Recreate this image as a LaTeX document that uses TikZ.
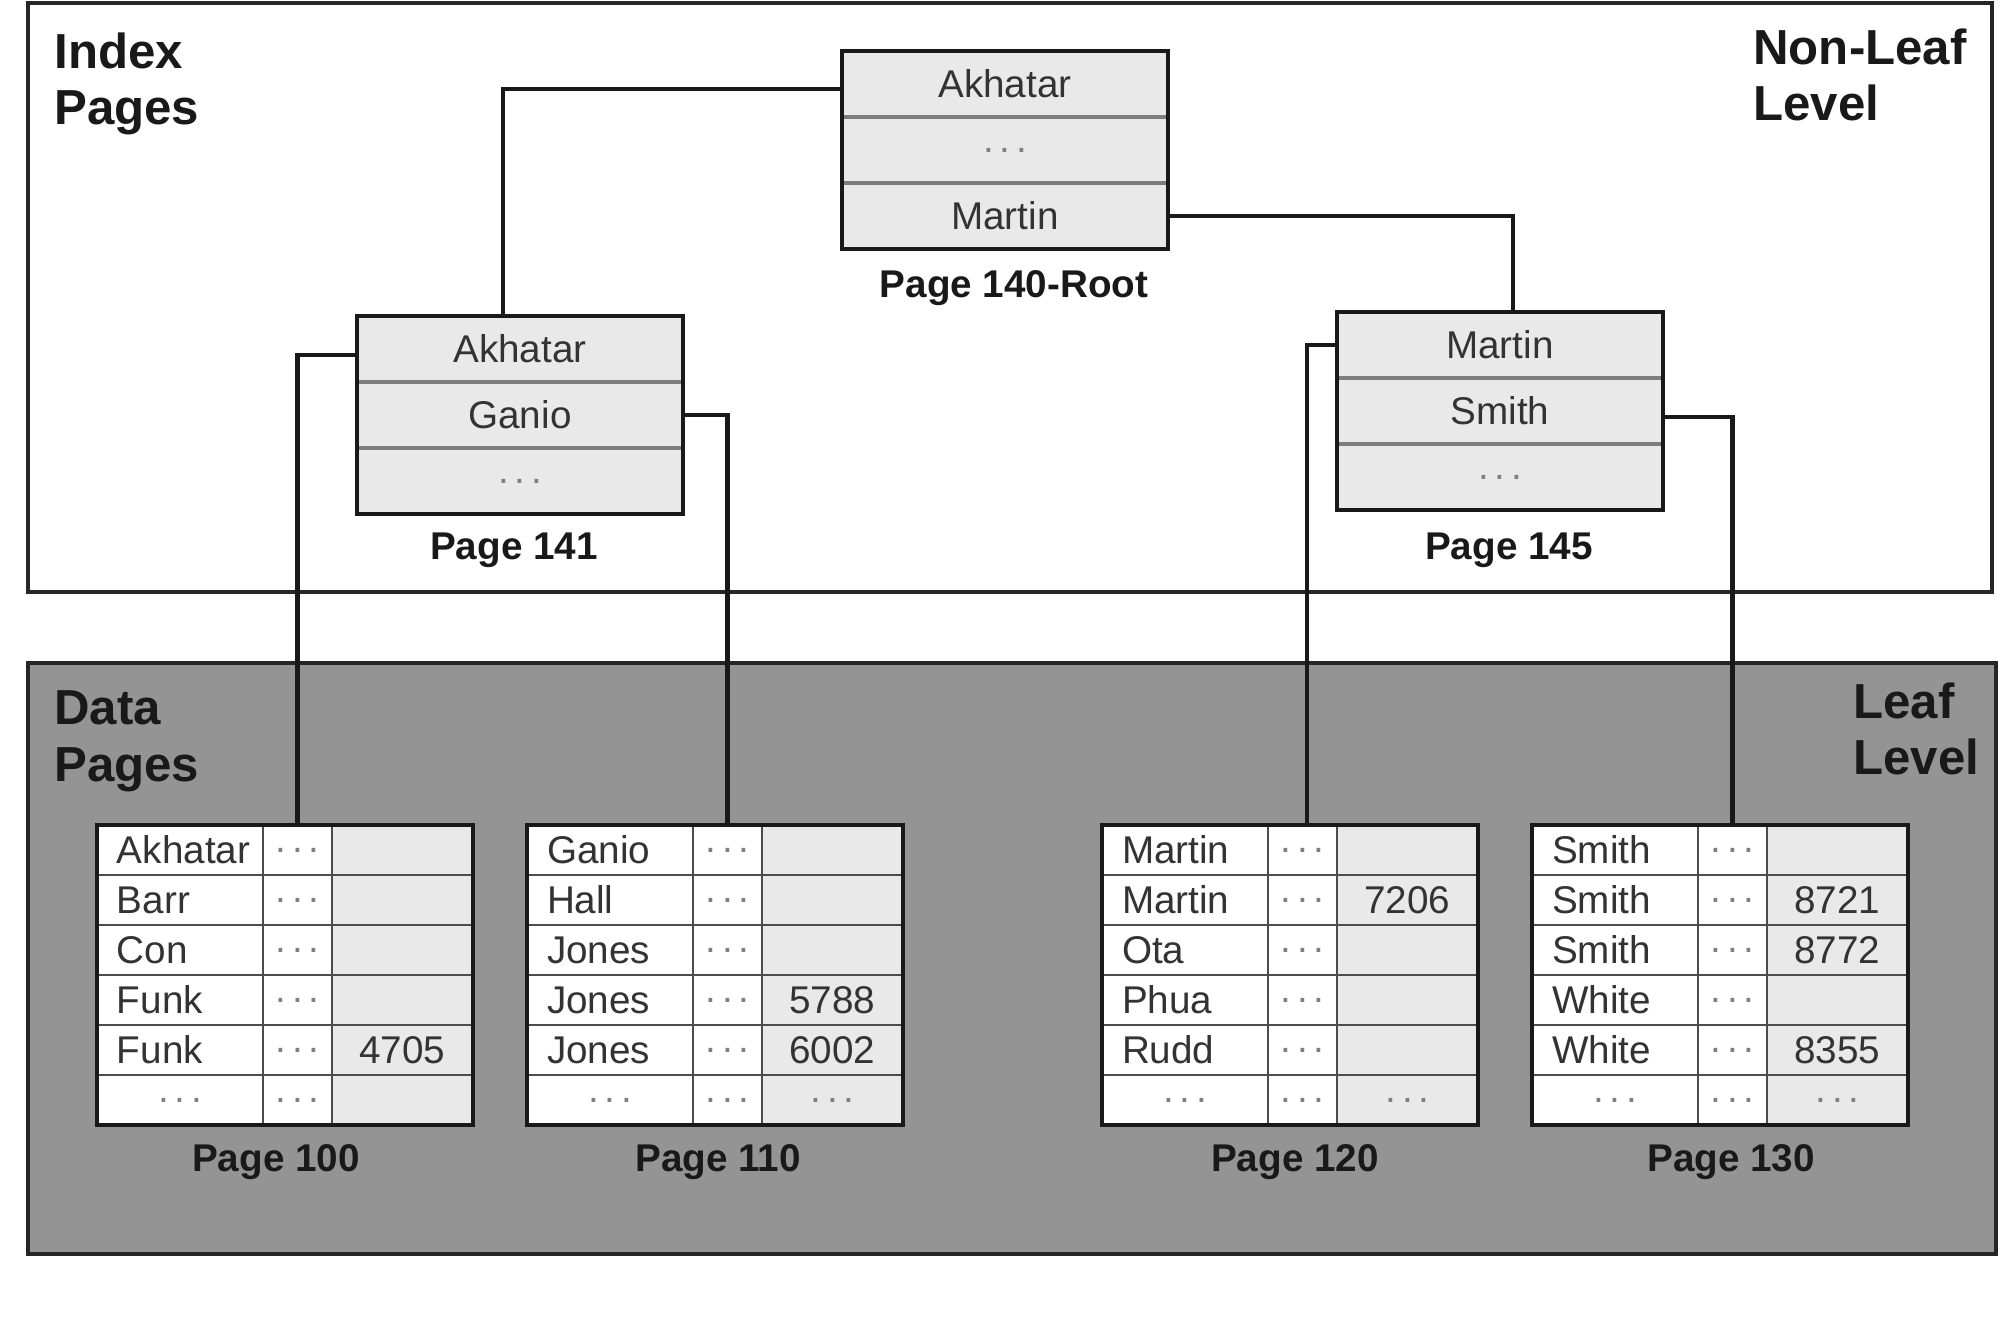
\documentclass[tikz,border=0pt]{standalone}
\usepackage{fontspec}
\setmainfont{Liberation Sans}
\definecolor{cellbg}{RGB}{233,233,233}
\definecolor{leafbg}{RGB}{148,148,148}
\definecolor{rowsep}{RGB}{125,125,125}
\newcommand\dts{\textcolor{black!50}{.\kern0.15em.\kern0.15em.}}
\newcommand\cdts{\makebox[2.52cm]{\dts}}
\newcommand\leafrow[6]{%
  \node[namecell] (#1-#2-1) at (#3,#4) {#5};
  \node[dotcell] (#1-#2-2) at (#1-#2-1.north east) {\dts};
  \node[valcell] (#1-#2-3) at (#1-#2-2.north east) {#6};}
\tikzset{
  idxrow/.style={draw=rowsep, line width=1.8pt, fill=cellbg, minimum width=6.52cm,
    minimum height=1.32cm, inner sep=0pt, outer sep=0pt, anchor=north west,
    font=\fontsize{22}{26}\selectfont, text=black!80},
  border/.style={draw=black!90, line width=2.3pt},
  conn/.style={draw=black!90, line width=2.5pt},
  leafcell/.style={draw=black!70, line width=1.3pt, minimum height=1.0cm, inner ysep=0pt,
    outer sep=0pt, anchor=north west, font=\fontsize{22}{26}\selectfont, text=black!80},
  namecell/.style={leafcell, fill=white, text width=2.52cm, align=left, inner xsep=0.4cm},
  dotcell/.style={leafcell, fill=white, minimum width=1.38cm, inner xsep=0pt},
  valcell/.style={leafcell, fill=cellbg, minimum width=2.82cm, inner xsep=0pt},
  pagelbl/.style={font=\bfseries\fontsize{22}{26}\selectfont, text=black!90, inner sep=0pt},
  corner/.style={font=\bfseries\fontsize{28}{32.4}\selectfont, text=black!90, inner sep=0pt,
    anchor=north west, align=left},
  areabox/.style={draw=black!85, line width=2.8pt}
}
\begin{document}
\begin{tikzpicture}[x=0.02cm,y=-0.02cm]
\useasboundingbox (0,0) rectangle (2000,1340);
% areas
\draw[areabox] (28,3) rectangle (1992,592);
\draw[areabox, fill=leafbg] (28,663) rectangle (1996,1254);
\node[corner] (idx) at (54,32) {Index\\Pages};
\node[corner] (nonleaf) at (1753,28) {Non-Leaf\\Level};
\node[corner] (data) at (54,690) {Data\\Pages};
\node[corner] (leaf) at (1853,682) {Leaf\\Level};

% root page 140
\node[idxrow] (root-1) at (842,51) {Akhatar};
\node[idxrow] (root-2) at (root-1.south west) {\dts};
\node[idxrow] (root-3) at (root-2.south west) {Martin};
\draw[border] (root-1.north west) rectangle (root-3.south east);
\node[pagelbl] (lroot) at (1014,288) {Page 140-Root};

% page 141
\node[idxrow] (p141-1) at (357,316) {Akhatar};
\node[idxrow] (p141-2) at (p141-1.south west) {Ganio};
\node[idxrow] (p141-3) at (p141-2.south west) {\dts};
\draw[border] (p141-1.north west) rectangle (p141-3.south east);
\node[pagelbl] (l141) at (514,550) {Page 141};

% page 145
\node[idxrow] (p145-1) at (1337,312) {Martin};
\node[idxrow] (p145-2) at (p145-1.south west) {Smith};
\node[idxrow] (p145-3) at (p145-2.south west) {\dts};
\draw[border] (p145-1.north west) rectangle (p145-3.south east);
\node[pagelbl] (l145) at (1509,550) {Page 145};

% page 100
\leafrow{p100}{1}{97}{825}{Akhatar}{}
\leafrow{p100}{2}{97}{875}{Barr}{}
\leafrow{p100}{3}{97}{925}{Con}{}
\leafrow{p100}{4}{97}{975}{Funk}{}
\leafrow{p100}{5}{97}{1025}{Funk}{4705}
\leafrow{p100}{6}{97}{1075}{\cdts}{}
\draw[border] (p100-1-1.north west) rectangle (p100-6-3.south east);
\node[pagelbl] (l100) at (276,1162) {Page 100};

% page 110
\leafrow{p110}{1}{527}{825}{Ganio}{}
\leafrow{p110}{2}{527}{875}{Hall}{}
\leafrow{p110}{3}{527}{925}{Jones}{}
\leafrow{p110}{4}{527}{975}{Jones}{5788}
\leafrow{p110}{5}{527}{1025}{Jones}{6002}
\leafrow{p110}{6}{527}{1075}{\cdts}{\dts}
\draw[border] (p110-1-1.north west) rectangle (p110-6-3.south east);
\node[pagelbl] (l110) at (718,1162) {Page 110};

% page 120
\leafrow{p120}{1}{1102}{825}{Martin}{}
\leafrow{p120}{2}{1102}{875}{Martin}{7206}
\leafrow{p120}{3}{1102}{925}{Ota}{}
\leafrow{p120}{4}{1102}{975}{Phua}{}
\leafrow{p120}{5}{1102}{1025}{Rudd}{}
\leafrow{p120}{6}{1102}{1075}{\cdts}{\dts}
\draw[border] (p120-1-1.north west) rectangle (p120-6-3.south east);
\node[pagelbl] (l120) at (1295,1162) {Page 120};

% page 130
\leafrow{p130}{1}{1532}{825}{Smith}{}
\leafrow{p130}{2}{1532}{875}{Smith}{8721}
\leafrow{p130}{3}{1532}{925}{Smith}{8772}
\leafrow{p130}{4}{1532}{975}{White}{}
\leafrow{p130}{5}{1532}{1025}{White}{8355}
\leafrow{p130}{6}{1532}{1075}{\cdts}{\dts}
\draw[border] (p130-1-1.north west) rectangle (p130-6-3.south east);
\node[pagelbl] (l130) at (1731,1162) {Page 130};

% connectors
\draw[conn] ([yshift=-0.1cm]root-1.west) -| ([xshift=-0.34cm]p141-1.north);
\draw[conn] (root-3.east) -| ([xshift=0.26cm]p145-1.north);
\draw[conn] ([yshift=-0.12cm]p141-1.west) -| (p100-1-2.north);
\draw[conn] (p141-2.east) -| (p110-1-2.north);
\draw[conn] (p145-1.west) -| ([xshift=0.09cm]p120-1-2.north);
\draw[conn] ([yshift=-0.12cm]p145-2.east) -| (p130-1-2.north);
\end{tikzpicture}
\end{document}
